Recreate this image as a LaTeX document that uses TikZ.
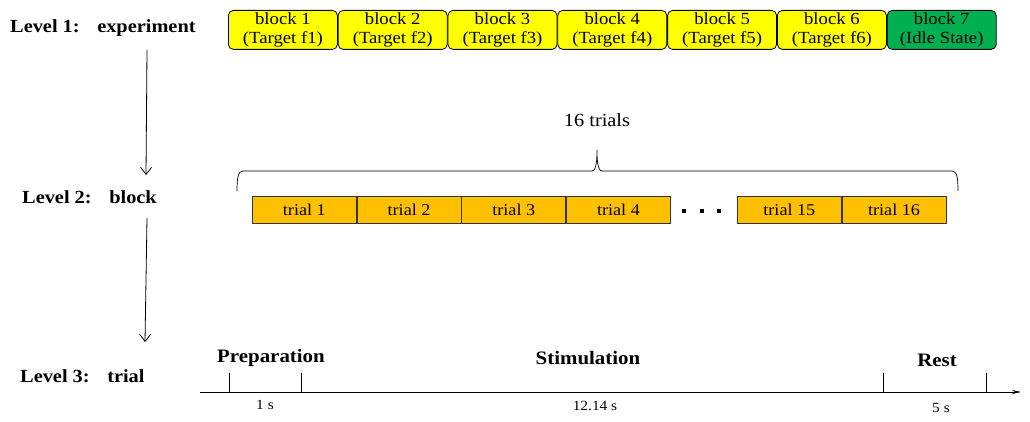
\documentclass[tikz,border=0pt]{standalone}
\usepackage{fontspec}
\setmainfont[FakeStretch=1.1]{Liberation Serif}
\usetikzlibrary{arrows.meta}
\definecolor{blockyellow}{HTML}{FFFF00}
\definecolor{blockgreen}{HTML}{00B050}
\definecolor{trialorange}{HTML}{FFC000}
\tikzset{
  blockbox/.style={draw=black, line width=0.8pt, rounded corners=5pt, fill=blockyellow,
    minimum width=109pt, minimum height=39pt, inner sep=0pt, anchor=north west,
    align=center, font=\fontsize{17}{18.5}\selectfont},
  trialbox/.style={draw=black!80, line width=0.7pt, fill=trialorange,
    minimum width=104pt, minimum height=27pt, inner sep=0pt, anchor=north west,
    font=\fontsize{16.5}{18}\selectfont},
  levellabel/.style={font=\fontsize{18.5}{20}\selectfont\bfseries, anchor=west, inner sep=0pt},
  phaselabel/.style={font=\fontsize{19}{21}\selectfont\bfseries, inner sep=0pt},
  durlabel/.style={font=\fontsize{14}{16}\selectfont, inner sep=0pt},
  levelarrow/.style={line width=0.8pt, -{Straight Barb[length=7pt,width=11pt,line width=0.8pt]}},
  dotsq/.style={fill=black, minimum size=4pt, inner sep=0pt},
}
\begin{document}
\begin{tikzpicture}[x=1pt,y=-1pt]
\useasboundingbox (0,0) rectangle (1030,422);
% Level labels
\node[levellabel] (l1) at (10,28) {Level 1:\hspace{0.95em}experiment};
\node[levellabel] (l2) at (22,197) {Level 2:\hspace{0.95em}block};
\node[levellabel] (l3) at (20,376) {Level 3:\hspace{0.95em}trial};
% arrows between levels
\coordinate (a1s) at (147,50);
\coordinate (a1e) at (146,175);
\coordinate (a2s) at (147,218);
\coordinate (a2e) at (145,342);
\draw[levelarrow] (a1s) -- (a1e);
\draw[levelarrow] (a2s) -- (a2e);
% blocks
\node[blockbox] (b1) at (228,10) {block 1\\(Target f1)};
\node[blockbox] (b2) at (b1.north east) {block 2\\(Target f2)};
\node[blockbox] (b3) at (b2.north east) {block 3\\(Target f3)};
\node[blockbox] (b4) at (b3.north east) {block 4\\(Target f4)};
\node[blockbox] (b5) at (b4.north east) {block 5\\(Target f5)};
\node[blockbox] (b6) at (b5.north east) {block 6\\(Target f6)};
\node[blockbox, fill=blockgreen] (b7) at (b6.north east) {block 7\\(Idle State)};
% brace and label
\node[font=\fontsize{18.5}{20}\selectfont, inner sep=0pt] (nt) at (597,120) {16 trials};
\coordinate (brL) at (237,191);
\coordinate (brR) at (958,191);
\coordinate (brT) at (597,150);
\draw[line width=0.7pt] (brL) .. controls (237,178) and (238,171) .. (243,171)
  -- (592,171) .. controls (595,171) and (597,166) .. (brT)
  .. controls (597,166) and (599,171) .. (602,171)
  -- (952,171) .. controls (957,171) and (958,178) .. (brR);
% trials
\node[trialbox] (t1) at (252,196) {trial 1};
\node[trialbox] (t2) at (t1.north east) {trial 2};
\node[trialbox] (t3) at (t2.north east) {trial 3};
\node[trialbox] (t4) at (t3.north east) {trial 4};
\node[trialbox] (t15) at (737,196) {trial 15};
\node[trialbox] (t16) at (t15.north east) {trial 16};
\node[dotsq] (d1) at (684,211) {};
\node[dotsq] (d2) at (702,211) {};
\node[dotsq] (d3) at (719,211) {};
% timeline
\coordinate (tl0) at (200,392);
\coordinate (tl1) at (1021,392);
\draw[line width=0.9pt, -{Stealth[length=9pt,width=4pt]}] (tl0) -- (tl1);
\coordinate (k1) at (229,392);
\coordinate (k2) at (301,392);
\coordinate (k3) at (883,392);
\coordinate (k4) at (986,392);
\foreach \k in {k1,k2,k3,k4}
  \draw[line width=0.9pt] (\k) -- ++(0,-19);
\node[phaselabel] (p1) at (271,358) {Preparation};
\node[phaselabel] (p2) at (588,358) {Stimulation};
\node[phaselabel] (p3) at (937,360) {Rest};
\node[durlabel] (s1) at (265,405) {1 s};
\node[durlabel] (s2) at (595,406) {12.14 s};
\node[durlabel] (s3) at (941,408) {5 s};
\end{tikzpicture}
\end{document}
